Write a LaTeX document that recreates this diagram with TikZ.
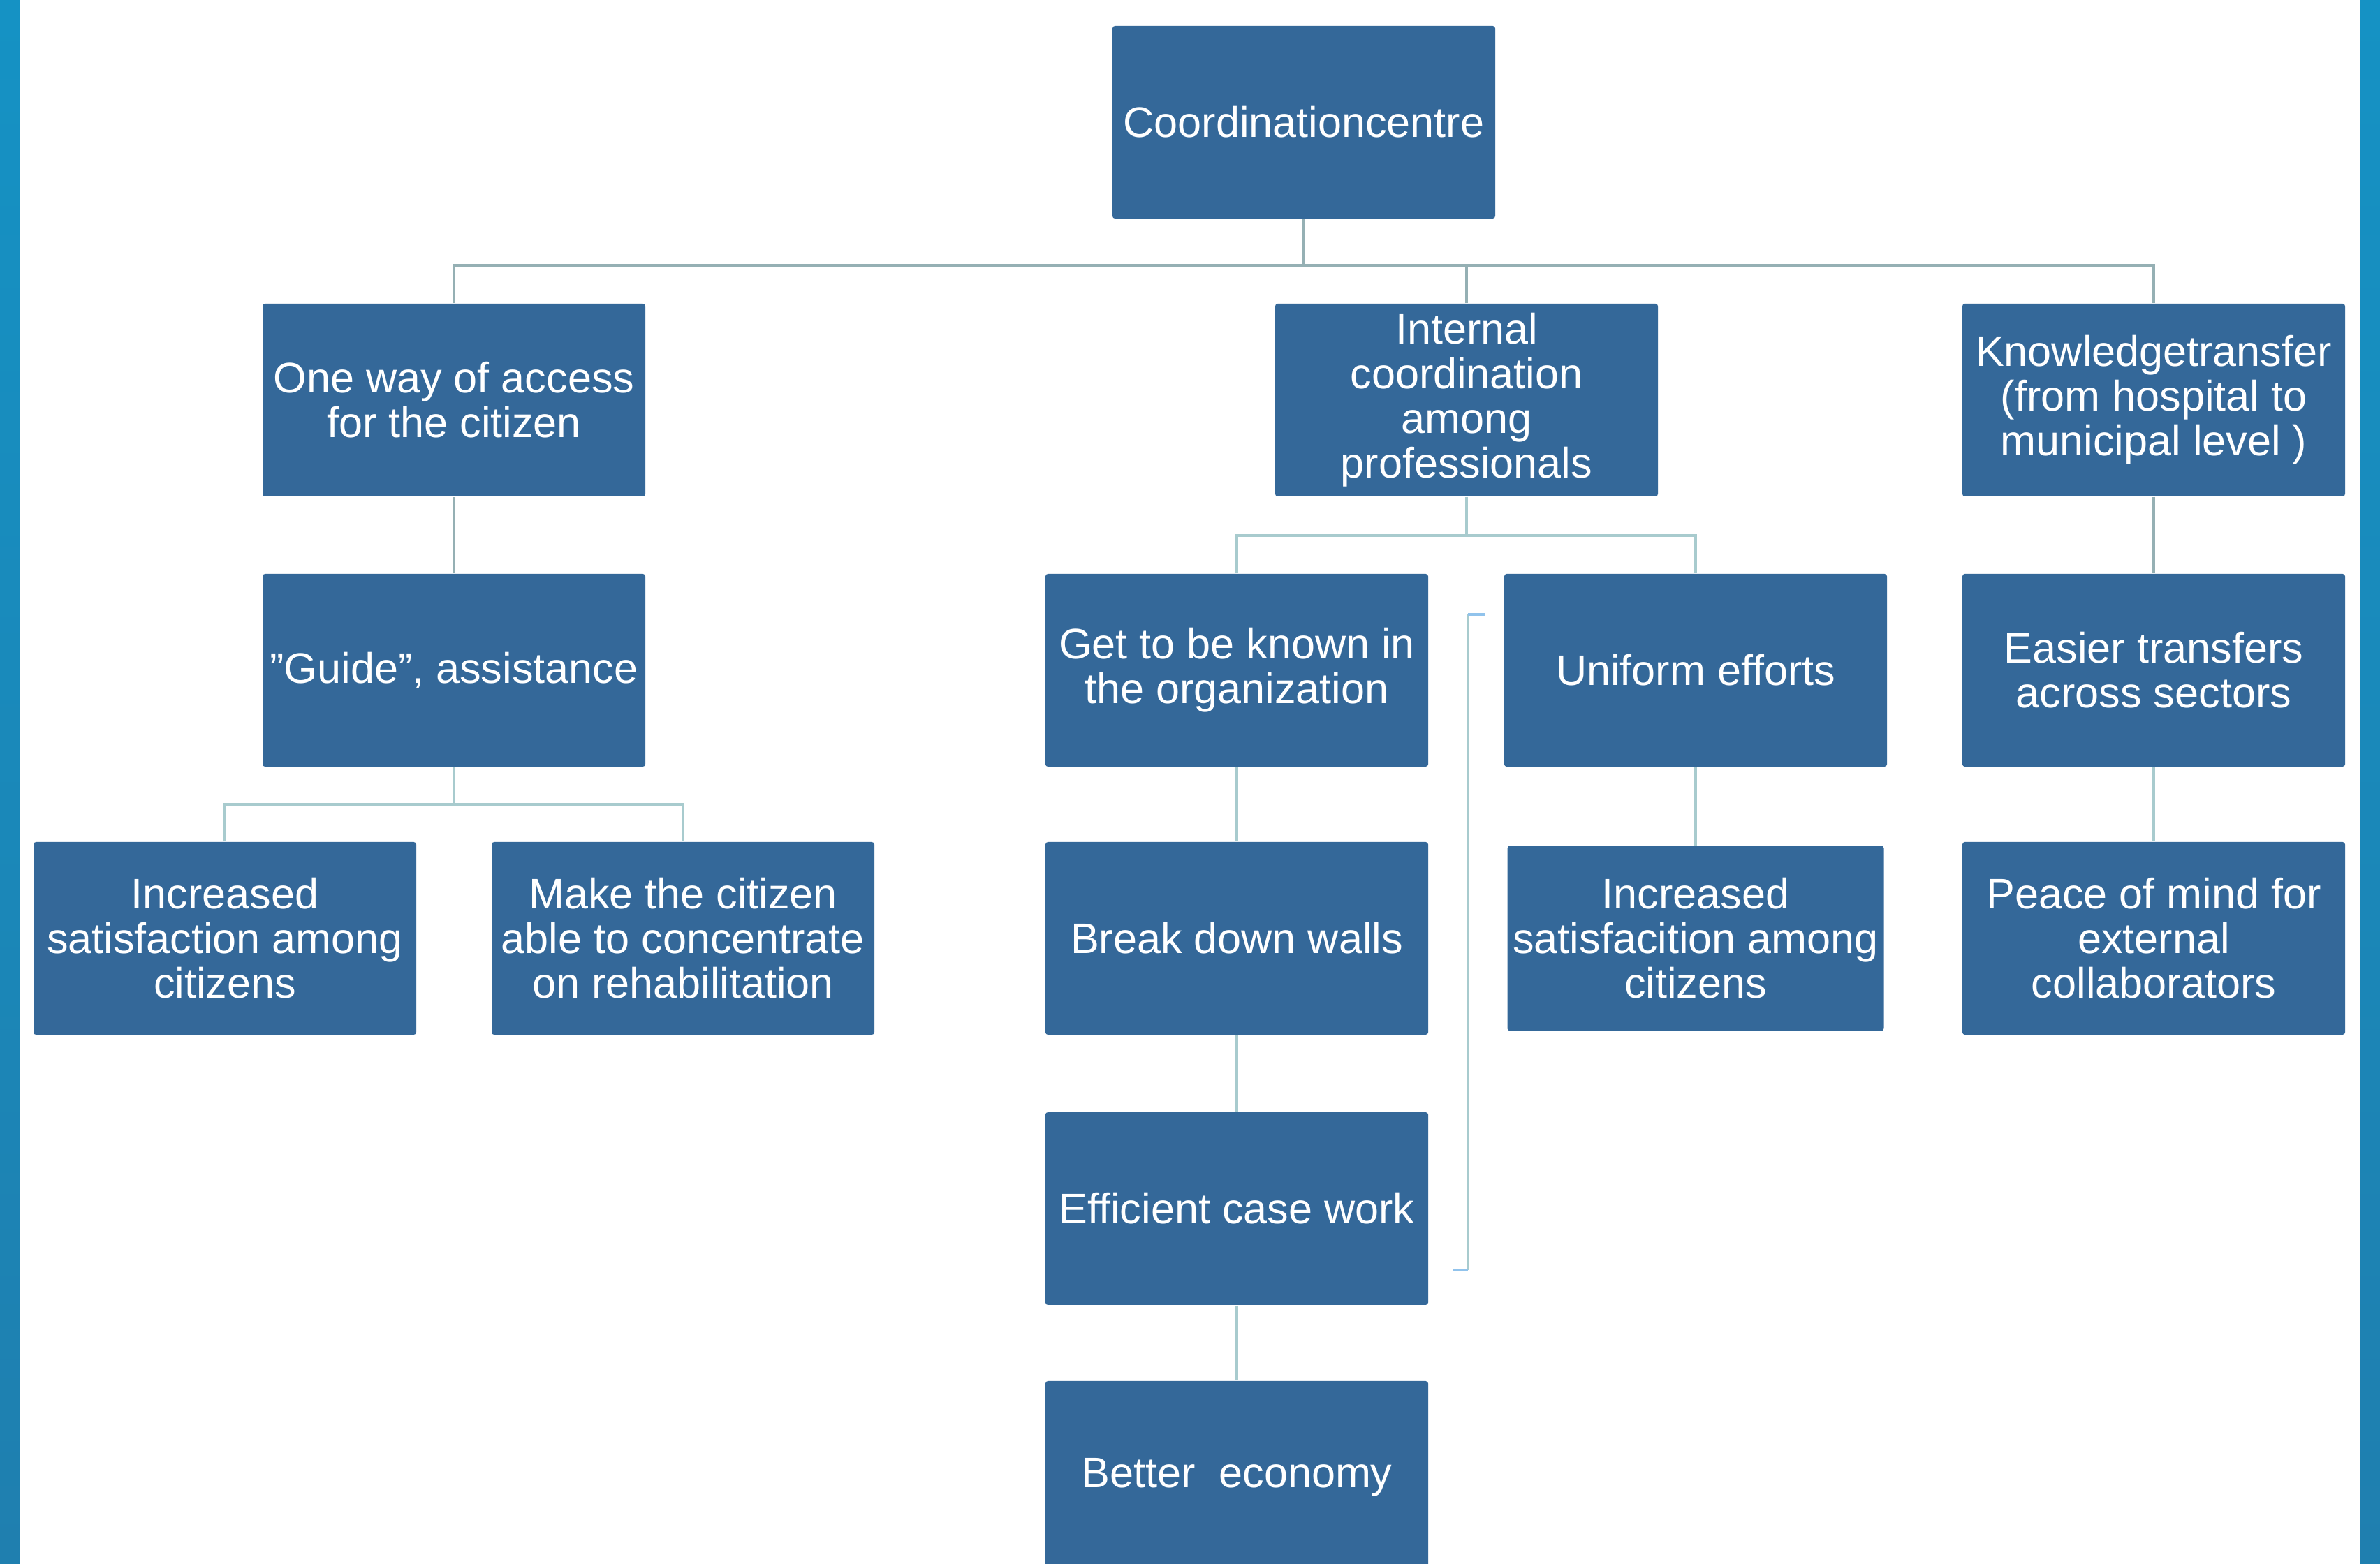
\documentclass[tikz,border=0pt]{standalone}
\usepackage{fontspec}
\setmainfont{Liberation Sans}
\usetikzlibrary{positioning}
\definecolor{boxBlue}{HTML}{346899}
\definecolor{barTop}{HTML}{1592C4}
\definecolor{barBottom}{HTML}{1F7FAF}
\definecolor{linkDark}{HTML}{95B0B4}
\definecolor{linkLight}{HTML}{A8CBCE}
\definecolor{tickBlue}{HTML}{91C3EC}
\begin{document}
\begin{tikzpicture}[
	box/.style={rectangle, rounded corners=1pt, fill=boxBlue, text=white, align=center,
		minimum width=5.48cm, minimum height=2.76cm, inner sep=0pt,
		font=\fontsize{17.4pt}{18.2pt}\selectfont},
	linkTop/.style={draw=linkDark, line width=1.4pt},
	link/.style={draw=linkLight, line width=1.4pt}
	]
	\useasboundingbox (0,0) rectangle (34.08,22.40);
	\fill[top color=barTop, bottom color=barBottom] (0,0) rectangle (0.28,22.40);
	\fill[top color=barTop, bottom color=barBottom] (33.80,0) rectangle (34.08,22.40);

	\node[box] (coordCentre) at (18.67,20.65) {Coordinationcentre};

	\node[box] (oneWay) at (6.50,16.67) {One way of access\\for the citizen};
	\node[box] (internal) at (21.00,16.67) {Internal\\coordination\\among\\professionals};
	\node[box] (knowledge) at (30.84,16.67) {Knowledgetransfer\\(from hospital to\\municipal level )};

	\node[box] (guide) at (6.50,12.80) {”Guide”, assistance};
	\node[box] (getKnown) at (17.71,12.80) {Get to be known in\\the organization};
	\node[box] (uniform) at (24.28,12.80) {Uniform efforts};
	\node[box] (easier) at (30.84,12.80) {Easier transfers\\across sectors};

	\node[box] (incSat) at (3.22,8.96) {Increased\\satisfaction among\\citizens};
	\node[box] (makeCitizen) at (9.78,8.96) {Make the citizen\\able to concentrate\\on rehabilitation};
	\node[box] (breakWalls) at (17.71,8.96) {Break down walls};
	\node[box, minimum width=5.39cm, minimum height=2.65cm] (incSatTwo) at (24.28,8.96) {Increased\\satisfacition among\\citizens};
	\node[box] (peace) at (30.84,8.96) {Peace of mind for\\external\\collaborators};

	\node[box] (efficient) at (17.71,5.09) {Efficient case work};
	\node[box] (economy) at (17.71,1.24) {Better\ \ economy};

	\coordinate (topBus) at (0,18.60);
	\coordinate (internalBus) at (0,14.73);
	\coordinate (guideBus) at (0,10.88);

	\draw[linkTop] (coordCentre.south) -- (coordCentre.south |- topBus);
	\draw[linkTop] (oneWay.north) |- (knowledge.north |- topBus) -- (knowledge.north);
	\draw[linkTop] (internal.north) -- (internal.north |- topBus);

	\draw[link] (internal.south) -- (internal.south |- internalBus);
	\draw[link] (getKnown.north) |- (uniform.north |- internalBus) -- (uniform.north);
	\draw[link] (guide.south) -- (guide.south |- guideBus);
	\draw[link] (incSat.north) |- (makeCitizen.north |- guideBus) -- (makeCitizen.north);

	\draw[linkTop] (oneWay) -- (guide);
	\draw[linkTop] (knowledge) -- (easier);
	\draw[link] (easier) -- (peace);
	\draw[link] (getKnown) -- (breakWalls);
	\draw[link] (breakWalls) -- (efficient);
	\draw[link] (efficient) -- (economy);
	\draw[link] (uniform) -- (incSatTwo);

	\coordinate (bracketTop) at (21.02,13.60);
	\coordinate (bracketBottom) at (21.02,4.21);
	\draw[link] (bracketTop) -- (bracketBottom);
	\draw[tickBlue, line width=1.4pt] (bracketTop) -- ++(0.24,0);
	\draw[tickBlue, line width=1.4pt] (bracketBottom) -- ++(-0.22,0);
\end{tikzpicture}
\end{document}
